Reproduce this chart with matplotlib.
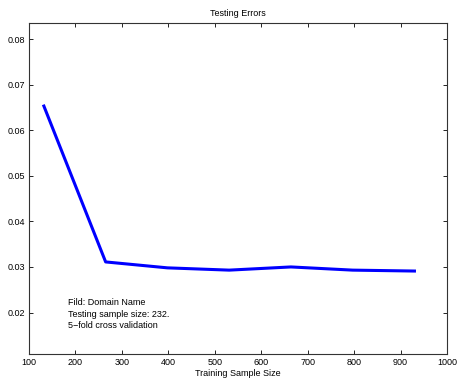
import matplotlib
matplotlib.use('Agg')
import matplotlib.pyplot as plt

train_size = [132, 265, 398, 531, 664, 797, 930]
test_error = [0.0653, 0.0311, 0.0298, 0.0293, 0.0300, 0.0293, 0.0291]
x_ticks = [100, 200, 300, 400, 500, 600, 700, 800, 900, 1000]
y_ticks = [0.02, 0.03, 0.04, 0.05, 0.06, 0.07, 0.08]
note_lines = ['Fild: Domain Name', 'Testing sample size: 232.', '5\u2212fold cross validation']

plt.rcParams['font.family'] = ['Liberation Sans', 'DejaVu Sans']
plt.rcParams['font.size'] = 6.5

fig = plt.figure(figsize=(4.57, 3.79), dpi=100)
ax = fig.add_axes([0.0635, 0.066, 0.9145, 0.873])
ax.plot(train_size, test_error, color='#0000ff', linewidth=2.2)

ax.set_xlim(100, 1000)
ax.set_ylim(0.0109, 0.0835)
ax.set_xticks(x_ticks)
ax.set_yticks(y_ticks)
ax.set_xticklabels([str(t) for t in x_ticks])
ax.set_yticklabels(['%.2f' % t for t in y_ticks])
ax.tick_params(direction='in', top=True, right=True, length=3, width=0.6, pad=3)
for s in ax.spines.values():
    s.set_linewidth(0.8)
    s.set_color('#333333')

ax.set_title('Testing Errors', fontsize=6.5, pad=5)
ax.set_xlabel('Training Sample Size', labelpad=1)

ax.text(184, 0.0231, '\n'.join(note_lines), fontsize=6.5, va='top', ha='left', linespacing=1.35)

fig.savefig('out.png', dpi=100)
